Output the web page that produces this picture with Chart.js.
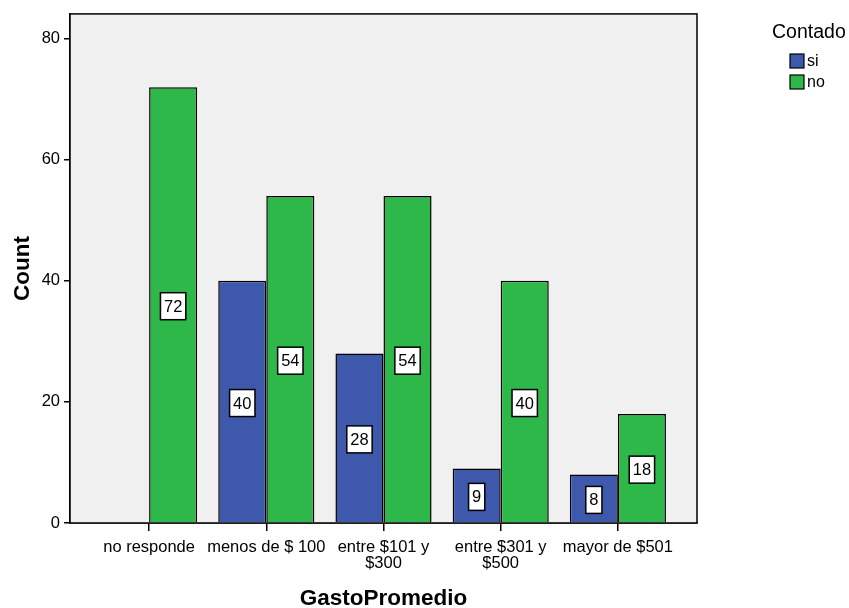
<!DOCTYPE html>
<html>
<head>
<meta charset="utf-8">
<script src="https://cdn.jsdelivr.net/npm/chart.js@4.4.1/dist/chart.umd.min.js"></script>
<style>
  html, body { margin: 0; padding: 0; background: #fff; }
  #wrap { width: 849px; height: 608px; position: relative; }
</style>
</head>
<body>
<div id="wrap"><canvas id="myChart" width="849" height="608"></canvas></div>
<script>
const categories = ['no responde', 'menos de $ 100', ['entre $101 y', '$300'], ['entre $301 y', '$500'], 'mayor de $501']
const siValues = [null, 40, 28, 9, 8]
const noValues = [72, 54, 54, 40, 18]
const yTicks = [0, 20, 40, 60, 80]

const FONT = "'Liberation Sans', Arial, sans-serif"

// plot background + frame
const frame = {
    id: 'frame',
    beforeDatasetsDraw(chart) {
        const a = chart.chartArea, c = chart.ctx
        c.save()
        c.fillStyle = '#f0f0f0'
        c.fillRect(a.left, a.top, a.right - a.left, a.bottom - a.top)
        c.restore()
    },
    afterDraw(chart) {
        const a = chart.chartArea, c = chart.ctx
        c.save()
        c.strokeStyle = '#000'
        c.lineWidth = 1.5
        c.strokeRect(a.left, a.top, a.right - a.left, a.bottom - a.top)
        c.restore()
    }
}

// white value boxes in the middle of each bar
const valueBoxes = {
    id: 'valueBoxes',
    afterDatasetsDraw(chart) {
        const c = chart.ctx
        c.save()
        c.font = '16.5px ' + FONT
        c.textAlign = 'center'
        c.textBaseline = 'middle'
        chart.data.datasets.forEach((ds, i) => {
            chart.getDatasetMeta(i).data.forEach((bar, j) => {
                const v = ds.data[j].y
                if (v == null) return
                const txt = String(v)
                const w = c.measureText(txt).width + 7
                const h = 27
                const cy = (bar.y + bar.base) / 2 + 1.5
                c.fillStyle = '#fff'
                c.fillRect(bar.x - w / 2, cy - h / 2, w, h)
                c.strokeStyle = '#000'
                c.lineWidth = 1.5
                c.strokeRect(bar.x - w / 2, cy - h / 2, w, h)
                c.fillStyle = '#000'
                c.fillText(txt, bar.x, cy + 1)
            })
        })
        c.restore()
    }
}

// legend on the right
const sideLegend = {
    id: 'sideLegend',
    afterDraw(chart) {
        const c = chart.ctx
        c.save()
        c.fillStyle = '#000'
        c.font = '19.5px ' + FONT
        c.textAlign = 'left'
        c.textBaseline = 'middle'
        c.fillText('Contado', 772, 33)
        c.font = '16px ' + FONT
        chart.data.datasets.forEach((ds, i) => {
            const y = 61 + i * 21
            c.fillStyle = ds.backgroundColor
            c.fillRect(790, y - 7, 14, 14)
            c.strokeStyle = '#000'
            c.lineWidth = 1.2
            c.strokeRect(790, y - 7, 14, 14)
            c.fillStyle = '#000'
            c.fillText(ds.label, 807, y + 1)
        })
        c.restore()
    }
}

const data = {
    datasets: [
        {
            label: 'si',
            data: siValues.map((v, i) => ({ x: i, y: v })),
            backgroundColor: '#3e58ac',
            borderColor: '#000',
            borderWidth: 1.5,
            categoryPercentage: 0.82,
            barPercentage: 1
        },
        {
            label: 'no',
            data: noValues.map((v, i) => ({ x: i, y: v })),
            backgroundColor: '#2fb84a',
            borderColor: '#000',
            borderWidth: 1.5,
            categoryPercentage: 0.82,
            barPercentage: 1
        }
    ]
}

const options = {
    responsive: false,
    animation: false,
    layout: { padding: { top: 12, right: 152, left: 0, bottom: 0 } },
    plugins: { legend: { display: false }, tooltip: { enabled: false } },
    scales: {
        x: {
            type: 'linear',
            min: -0.675,
            max: 4.675,
            offset: false,
            afterBuildTicks(scale) { scale.ticks = categories.map((c, i) => ({ value: i })) },
            afterFit(scale) { scale.height = 85 },
            ticks: {
                callback: (v) => categories[v],
                color: '#000',
                font: { family: FONT, size: 16.5, lineHeight: 1.0 },
                padding: 8,
                maxRotation: 0,
                autoSkip: false
            },
            grid: { offset: false, drawOnChartArea: false, drawTicks: true, tickLength: 8, color: '#000', lineWidth: 1.5 },
            border: { display: true, color: '#000', width: 1.5 },
            title: {
                display: true,
                text: 'GastoPromedio',
                color: '#000',
                font: { family: FONT, size: 22.5, weight: 'bold' },
                padding: { top: 0, bottom: -4 }
            }
        },
        y: {
            min: 0,
            max: 84.1,
            afterBuildTicks(scale) { scale.ticks = yTicks.map(v => ({ value: v })) },
            afterFit(scale) { scale.width = 70 },
            ticks: {
                color: '#000',
                font: { family: FONT, size: 16.5 },
                padding: 4
            },
            grid: { drawOnChartArea: false, drawTicks: true, tickLength: 6, color: '#000', lineWidth: 1.5 },
            border: { display: true, color: '#000', width: 1.5 },
            title: {
                display: true,
                text: 'Count',
                color: '#000',
                font: { family: FONT, size: 22.5, weight: 'bold' },
                padding: { top: 9, bottom: 0 }
            }
        }
    }
}

const ctx = document.getElementById('myChart')
const myBarChart = new Chart(ctx, {
    type: 'bar',
    data: data,
    options: options,
    plugins: [frame, valueBoxes, sideLegend]
})
</script>
</body>
</html>
